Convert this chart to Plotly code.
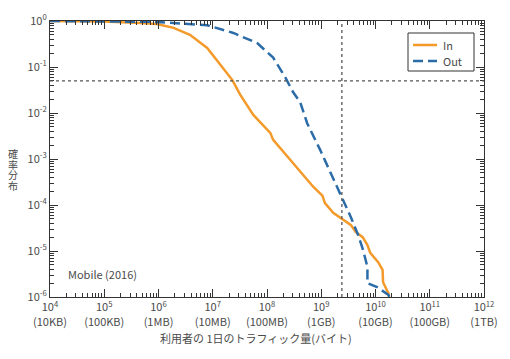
import plotly.graph_objects as go

# Daily traffic per user (bytes) and complementary CDF
in_x = [1e4, 1e5, 4.6e5, 9.3e5, 1.9e6, 3.8e6, 7.9e6, 1.4e7, 2.3e7, 3.2e7, 5.6e7,
        1.15e8, 1.3e8, 2.7e8, 5.5e8, 7.1e8, 1.05e9, 1.17e9, 1.66e9, 2.45e9, 3.5e9,
        4.3e9, 5.8e9, 7.1e9, 8.0e9, 1.12e10, 1.35e10, 1.38e10, 1.73e10, 1.78e10]
in_y = [1.0, 0.97, 0.906, 0.86, 0.71, 0.50, 0.26, 0.11, 0.052, 0.025, 0.0091,
        0.0037, 0.0026, 9.5e-4, 3.5e-4, 2.5e-4, 1.6e-4, 1.1e-4, 6.8e-5, 5.0e-5, 3.7e-5,
        2.6e-5, 2.0e-5, 1.35e-5, 9.1e-6, 5.7e-6, 3.9e-6, 2.1e-6, 1.2e-6, 1.0e-6]

out_x = [1e4, 1e5, 9.3e5, 7.9e6, 2.4e7, 6.6e7, 1.3e8, 2.2e8, 3.0e8, 4.1e8, 5.5e8,
         9.5e8, 1.5e9, 2.45e9, 3.5e9, 4.8e9, 5.9e9, 7.1e9, 7.1e9, 1.07e10, 1.74e10, 1.8e10]
out_y = [1.0, 0.99, 0.955, 0.81, 0.55, 0.33, 0.16, 0.058, 0.029, 0.017, 0.006,
         0.0016, 5.0e-4, 1.4e-4, 5.5e-5, 2.2e-5, 1.05e-5, 4.5e-6, 2.0e-6, 1.65e-6, 1.1e-6, 1.0e-6]

series_names = ["In", "Out"]

ref_x = 2.4e9   # vertical dotted line
ref_y = 0.05    # horizontal dotted line

x_tickvals = [1e4, 1e5, 1e6, 1e7, 1e8, 1e9, 1e10, 1e11, 1e12]
x_ticktext = ["10<sup>4</sup><br>(10KB)", "10<sup>5</sup><br>(100KB)", "10<sup>6</sup><br>(1MB)",
              "10<sup>7</sup><br>(10MB)", "10<sup>8</sup><br>(100MB)", "10<sup>9</sup><br>(1GB)",
              "10<sup>10</sup><br>(10GB)", "10<sup>11</sup><br>(100GB)", "10<sup>12</sup><br>(1TB)"]
y_tickvals = [1, 1e-1, 1e-2, 1e-3, 1e-4, 1e-5, 1e-6]
y_ticktext = ["10<sup>0</sup>", "10<sup>-1</sup>", "10<sup>-2</sup>", "10<sup>-3</sup>",
              "10<sup>-4</sup>", "10<sup>-5</sup>", "10<sup>-6</sup>"]
y_title = "確率分布"

ORANGE = "#F39A2B"
BLUE = "#2B6CA8"
TXT = "#4a4a4a"
AX = "#333333"
FONT = "Noto Sans CJK JP"
DASH = "10px,5px"

x_minor = [k * 10 ** d for d in range(4, 12) for k in range(2, 10)]
y_minor = [k * 10.0 ** d for d in range(-6, 0) for k in range(2, 10)]

# page offset (body margin) and plot area in screen pixels
OX, OY = 8, 8
FW, FH = 510, 359
L, R, T, B = 50, 484, 21, 297
W, H = R - L, B - T
def px(x): return (x - L) / W
def py(y): return (B - y) / H

fig = go.Figure()
fig.add_trace(go.Scatter(x=in_x, y=in_y, mode="lines", name=series_names[0],
                         line=dict(color=ORANGE, width=2.5), showlegend=False))
fig.add_trace(go.Scatter(x=out_x, y=out_y, mode="lines", name=series_names[1],
                         line=dict(color=BLUE, width=2.5, dash=DASH), showlegend=False))
# invisible helper on overlay axes (carries minor ticks)
fig.add_trace(go.Scatter(x=in_x[:1], y=in_y[:1], xaxis="x2", yaxis="y2", mode="markers",
                         marker=dict(opacity=0), showlegend=False, hoverinfo="skip"))

fig.add_shape(type="line", xref="x", yref="paper", x0=ref_x, x1=ref_x, y0=0, y1=1,
              line=dict(color="#555555", width=1.3, dash="dot"))
fig.add_shape(type="line", xref="paper", yref="y", x0=0, x1=1, y0=ref_y, y1=ref_y,
              line=dict(color="#555555", width=1.3, dash="dot"))

axis_common = dict(showgrid=False, zeroline=False, showline=True, linecolor=AX,
                   linewidth=1.2, mirror="allticks", ticks="inside",
                   tickcolor=AX, automargin=False)
tickfont = dict(family=FONT, size=11, color=TXT)

fig.update_layout(
    xaxis=dict(type="log", range=[4, 12], tickvals=x_tickvals, ticktext=x_ticktext,
               ticklen=8, tickwidth=1.3, tickfont=tickfont, **axis_common),
    yaxis=dict(type="log", range=[-6, 0], tickvals=y_tickvals, ticktext=y_ticktext,
               ticklen=8, tickwidth=1.3, tickfont=tickfont, **axis_common),
    xaxis2=dict(type="log", range=[4, 12], overlaying="x", side="bottom", anchor="y2",
                tickvals=x_minor, showticklabels=False, ticklen=4, tickwidth=1,
                **axis_common),
    yaxis2=dict(type="log", range=[-6, 0], overlaying="y", side="left", anchor="x2",
                tickvals=y_minor, showticklabels=False, ticklen=4, tickwidth=1,
                **axis_common),
)

# legend drawn manually
fig.add_shape(type="rect", xref="paper", yref="paper", x0=px(408), x1=px(474),
              y0=py(71), y1=py(33), line=dict(color=AX, width=1), fillcolor="white")
fig.add_shape(type="line", xref="paper", yref="paper", x0=px(413), x1=px(437),
              y0=py(45), y1=py(45), line=dict(color=ORANGE, width=2.5))
fig.add_shape(type="line", xref="paper", yref="paper", x0=px(413), x1=px(437),
              y0=py(61), y1=py(61), line=dict(color=BLUE, width=2.5, dash=DASH))
for name, yy in zip(series_names, [45, 61]):
    fig.add_annotation(text=name, xref="paper", yref="paper", x=px(441), y=py(yy),
                       xanchor="left", yanchor="middle", showarrow=False,
                       font=dict(family=FONT, size=11, color=TXT))

fig.add_annotation(text="Mobile (2016)", xref="paper", yref="paper", x=px(66), y=py(274),
                   xanchor="left", yanchor="middle", showarrow=False,
                   font=dict(family=FONT, size=11, color=TXT))
fig.add_annotation(text="利用者の 1日のトラフィック量(バイト)", xref="paper", yref="paper",
                   x=px(256), y=py(338), xanchor="center", yanchor="middle", showarrow=False,
                   font=dict(family=FONT, size=11, color=TXT))
for ch, yy in zip(y_title, [153, 164, 174.5, 185]):
    fig.add_annotation(text=ch, xref="paper", yref="paper", x=px(13), y=py(yy),
                       xanchor="center", yanchor="middle", showarrow=False,
                       font=dict(family=FONT, size=10, color=TXT))

fig.update_layout(
    width=FW, height=FH,
    margin=dict(l=L - OX, r=FW - (R - OX), t=T - OY, b=FH - (B - OY)),
    paper_bgcolor="white", plot_bgcolor="white",
    showlegend=False,
    font=dict(family=FONT, color=TXT),
)

fig.write_html("out.html")
